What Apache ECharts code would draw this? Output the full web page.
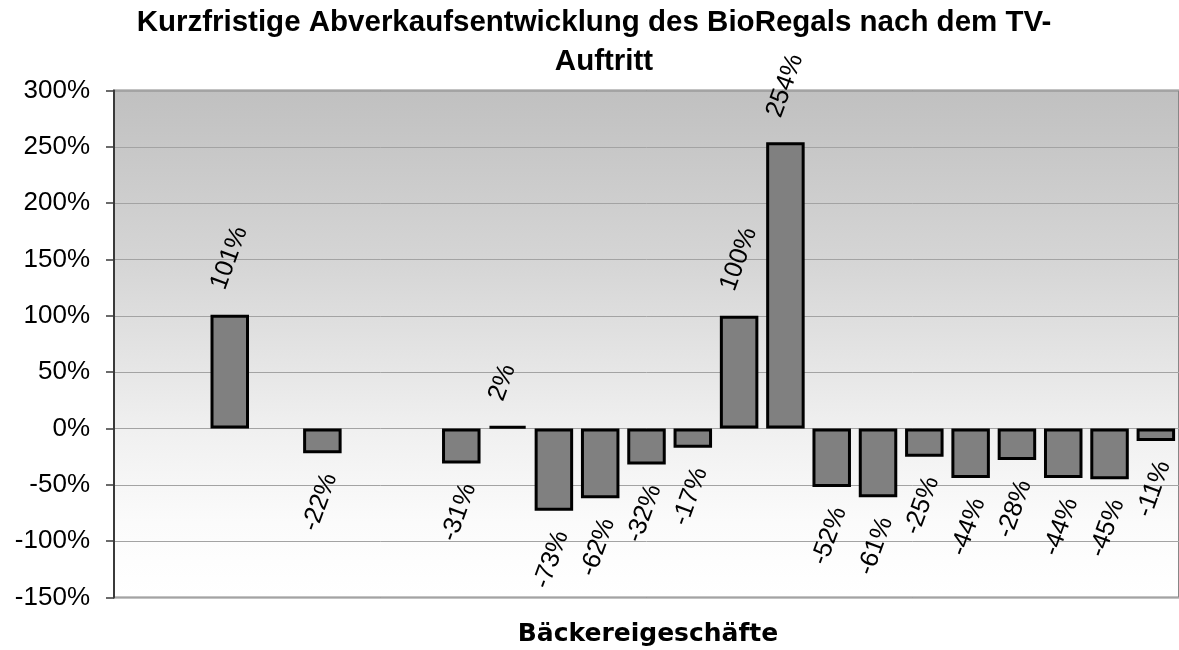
<!DOCTYPE html>
<html>
<head>
<meta charset="utf-8">
<script src="https://cdn.jsdelivr.net/npm/echarts@6/dist/echarts.min.js"></script>
<style>
  html, body { margin: 0; padding: 0; background: #ffffff; }
  #chart { width: 1179px; height: 650px; }
</style>
</head>
<body>
<div id="chart"></div>
<script>
// Titles
const titleLines = ['Kurzfristige Abverkaufsentwicklung des BioRegals nach dem TV-', 'Auftritt'];
const axisTitle = 'Bäckereigeschäfte';

// One slot per bakery shop (names are not printed on the axis)
const shops = ['1', '2', '3', '4', '5', '6', '7', '8', '9', '10', '11', '12',
               '13', '14', '15', '16', '17', '18', '19', '20', '21', '22', '23'];

// Short-term sales change per shop, in percent (null = no value)
const changes = [null, null, 101, null, -22, null, null, -31, 2, -73, -62, -32,
                 -17, 100, 254, -52, -61, -25, -44, -28, -44, -45, -11];

// Value axis range and step, in percent
const yMin = -150;
const yMax = 300;
const yStep = 50;

const FONT = '"Liberation Sans", Arial, sans-serif';

const labelBase = {
  show: true,
  rotate: 70,
  distance: 0,
  verticalAlign: 'middle',
  color: '#000',
  fontFamily: FONT,
  fontSize: 25.5,
  formatter: '{c}%'
};
const labelAbove = Object.assign({}, labelBase, { position: 'top', align: 'left', offset: [20.5, -19.7] });
const labelBelow = Object.assign({}, labelBase, { position: 'bottom', align: 'right', offset: [-17, 14.5] });

const barData = changes.map(v => v == null ? '-' : {
  value: v,
  label: v >= 0 ? labelAbove : labelBelow
});

const chart = echarts.init(document.getElementById('chart'), null, { renderer: 'canvas' });

chart.setOption({
  animation: false,
  backgroundColor: '#ffffff',
  grid: {
    left: 114,
    top: 90.5,
    right: -6.8,
    bottom: 52.5,
    show: true,
    borderColor: '#878787',
    borderWidth: 2,
    backgroundColor: {
      type: 'linear', x: 0, y: 0, x2: 0, y2: 1,
      colorStops: [
        { offset: 0, color: '#c0c0c0' },
        { offset: 0.35, color: '#d6d6d6' },
        { offset: 0.67, color: '#f0f0f0' },
        { offset: 0.85, color: '#fbfbfb' },
        { offset: 1, color: '#ffffff' }
      ]
    }
  },
  xAxis: {
    type: 'category',
    data: shops,
    boundaryGap: true,
    axisLine: { show: false },
    axisTick: { show: false },
    axisLabel: { show: false },
    splitLine: { show: false }
  },
  yAxis: {
    type: 'value',
    min: yMin,
    max: yMax,
    interval: yStep,
    axisLine: { show: true, lineStyle: { color: '#3a3a3a', width: 2 } },
    axisTick: { show: true, inside: false, length: 8, lineStyle: { color: '#3a3a3a', width: 1.5 } },
    axisLabel: {
      formatter: '{value}%',
      margin: 24,
      color: '#000',
      fontFamily: FONT,
      fontSize: 26
    },
    splitLine: { show: true, lineStyle: { color: '#a3a3a3', width: 1 } }
  },
  series: [{
    type: 'bar',
    data: barData,
    barWidth: 38.5,
    itemStyle: {
      color: '#808080',
      borderColor: '#000000',
      borderWidth: 3
    }
  }],
  graphic: [
    {
      type: 'text', x: 594, y: 23, silent: true,
      style: { text: titleLines[0], fill: '#000', font: 'bold 29.5px ' + FONT, align: 'center', verticalAlign: 'middle' }
    },
    {
      type: 'text', x: 604, y: 62, silent: true,
      style: { text: titleLines[1], fill: '#000', font: 'bold 29.5px ' + FONT, align: 'center', verticalAlign: 'middle' }
    },
    {
      type: 'text', x: 648, y: 634, silent: true,
      style: { text: axisTitle, fill: '#000', font: 'bold 25px "DejaVu Sans", sans-serif', align: 'center', verticalAlign: 'middle' }
    }
  ]
});
</script>
</body>
</html>
